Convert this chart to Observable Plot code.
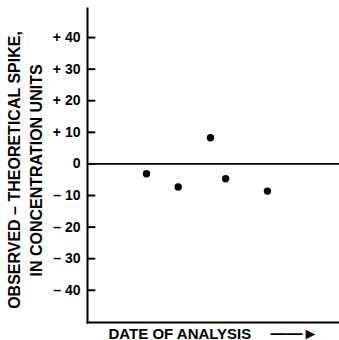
<!DOCTYPE html>
<html>
<head>
<meta charset="utf-8">
<script src="https://cdn.jsdelivr.net/npm/d3@7"></script>
<script src="https://cdn.jsdelivr.net/npm/@observablehq/plot@0.6"></script>
<style>
  html, body { margin: 0; padding: 0; background: #fff; }
  #chart svg { display: block; }
</style>
</head>
<body>
<div id="chart"></div>
<script>
// Analysis order (relative date position) and observed - theoretical spike
const analysisDate = [23.4, 36.0, 48.8, 54.8, 71.4];
const spikeDiff = [-3.1, -7.3, 8.3, -4.7, -8.6];
const yTicks = [-40, -30, -20, -10, 0, 10, 20, 30, 40];
const yLabelLine1 = "OBSERVED – THEORETICAL SPIKE,";
const yLabelLine2 = "IN CONCENTRATION UNITS";
const xLabel = "DATE OF ANALYSIS";
const xArrow = "——►";

const points = analysisDate.map((d, i) => ({date: d, diff: spikeDiff[i]}));
const font = "'Liberation Sans', Arial, Helvetica, sans-serif";
const fmt = d => d > 0 ? "+ " + d : d < 0 ? "– " + (-d) : "0";
const tickLen = 3.3; // inward tick length, in x-domain units

const chart = Plot.plot({
  width: 339,
  height: 340,
  marginLeft: 87,
  marginRight: 0,
  marginTop: 8,
  marginBottom: 18,
  style: {fontFamily: font, fontWeight: "bold", color: "#000", background: "#fff"},
  x: {domain: [0, 100], axis: null},
  y: {domain: [-50.2, 49.2], axis: null},
  marks: [
    Plot.axisY(yTicks, {anchor: "left", tickSize: 0, tickPadding: 7, tickFormat: fmt,
      fontSize: 14, fontWeight: "bold", label: null}),
    Plot.ruleY([0], {stroke: "#000", strokeWidth: 1.6}),
    Plot.frame({anchor: "left", stroke: "#000", strokeWidth: 2}),
    Plot.frame({anchor: "bottom", stroke: "#000", strokeWidth: 2}),
    Plot.dot(points, {x: "date", y: "diff", r: 3.7, fill: "#000", stroke: null}),
    Plot.ruleY(yTicks, {x1: 0, x2: tickLen, stroke: "#000", strokeWidth: 2}),
    Plot.text([yLabelLine1], {frameAnchor: "left", rotate: -90, dx: -73, dy: 4.5,
      fontSize: 16, fontWeight: "bold", textAnchor: "middle", lineAnchor: "middle", fill: "#000"}),
    Plot.text([yLabelLine2], {frameAnchor: "left", rotate: -90, dx: -51, dy: 5,
      fontSize: 16, fontWeight: "bold", textAnchor: "middle", lineAnchor: "middle", fill: "#000"}),
    Plot.text([xLabel], {frameAnchor: "bottom-left", dx: 21, dy: 16,
      fontSize: 15, fontWeight: "bold", textAnchor: "start", lineAnchor: "bottom", fill: "#000"}),
    Plot.text([xArrow], {frameAnchor: "bottom-left", dx: 183, dy: 16,
      fontSize: 16, fontWeight: "bold", textAnchor: "start", lineAnchor: "bottom", fill: "#000"})
  ]
});
document.getElementById("chart").appendChild(chart);
</script>
</body>
</html>
